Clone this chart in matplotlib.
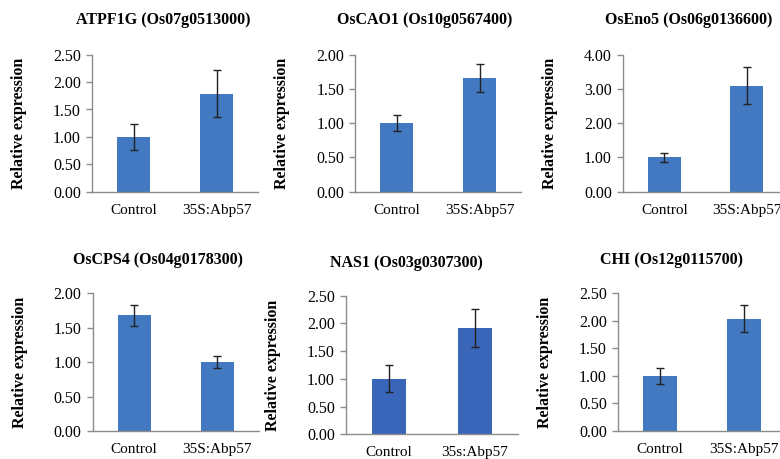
import matplotlib
matplotlib.use("Agg")
import matplotlib.pyplot as plt

plt.rcParams["font.family"] = ["Liberation Serif", "DejaVu Serif"]

W, H = 780, 459

# Gene panels: title, x categories, mean expression, error, y-axis maximum
titles = [
    "ATPF1G (Os07g0513000)",
    "OsCAO1 (Os10g0567400)",
    "OsEno5 (Os06g0136600)",
    "OsCPS4 (Os04g0178300)",
    "NAS1 (Os03g0307300)",
    "CHI (Os12g0115700)",
]
categories = [
    ["Control", "35S:Abp57"],
    ["Control", "35S:Abp57"],
    ["Control", "35S:Abp57"],
    ["Control", "35S:Abp57"],
    ["Control", "35s:Abp57"],
    ["Control", "35S:Abp57"],
]
means = [
    [1.00, 1.79],
    [1.00, 1.66],
    [1.00, 3.09],
    [1.68, 1.00],
    [1.00, 1.92],
    [1.00, 2.04],
]
errors = [
    [0.24, 0.43],
    [0.12, 0.21],
    [0.14, 0.54],
    [0.15, 0.085],
    [0.245, 0.34],
    [0.145, 0.245],
]
ymax = [2.5, 2.0, 4.0, 2.0, 2.5, 2.5]
ystep = [0.5, 0.5, 1.0, 0.5, 0.5, 0.5]

# Panel boxes in pixels: left, top, right, bottom
boxes = [
    (92, 54.7, 258, 191.7),
    (355.3, 54.7, 521.3, 191.7),
    (623, 54.7, 788, 191.7),
    (92.7, 293.3, 258.7, 431),
    (346, 295.7, 518, 434.3),
    (618, 293.3, 786, 430.7),
]
title_pos = [(163, 20.5), (425, 20.5), (689, 20.5), (158, 260), (406, 263), (672, 259.5)]
bar_colors = ["#4279C0", "#4279C0", "#4279C0", "#4279C0", "#3A66BA", "#4279C0"]
axis_gray = "#8C8C8C"

fig = plt.figure(figsize=(W / 100, H / 100), dpi=100)
fig.patch.set_facecolor("white")

for i in range(6):
    l, t, r, b = boxes[i]
    ax = fig.add_axes([l / W, 1 - b / H, (r - l) / W, (b - t) / H])
    x = list(range(len(categories[i])))
    ax.bar(x, means[i], width=0.4, color=bar_colors[i], zorder=2)
    ax.errorbar(x, means[i], yerr=errors[i], fmt="none", ecolor="#222222",
                elinewidth=1.0, capsize=3, capthick=1.0, zorder=3)
    ax.set_xlim(-0.5, len(x) - 0.5)
    ax.set_ylim(0, ymax[i])
    n = int(round(ymax[i] / ystep[i]))
    ticks = [k * ystep[i] for k in range(n + 1)]
    ax.set_yticks(ticks)
    ax.set_yticklabels([f"{v:.2f}" for v in ticks], fontsize=11.5)
    ax.set_xticks(x)
    ax.set_xticklabels(categories[i], fontsize=11)
    for s in ("top", "right"):
        ax.spines[s].set_visible(False)
    for s in ("left", "bottom"):
        ax.spines[s].set_color(axis_gray)
        ax.spines[s].set_linewidth(1.0)
    ax.tick_params(axis="x", length=0, pad=8.5)
    ax.tick_params(axis="y", length=4, width=1.0, color=axis_gray, pad=4)
    ax.set_ylabel("Relative expression", fontsize=11.5, fontweight="bold")
    ax.yaxis.set_label_coords(-65 / (r - l), 0.5)
    tx, ty = title_pos[i]
    fig.text(tx / W, 1 - ty / H, titles[i], fontsize=11.5, fontweight="bold",
             ha="center", va="center")

fig.savefig("out.png", dpi=100, facecolor="white")
